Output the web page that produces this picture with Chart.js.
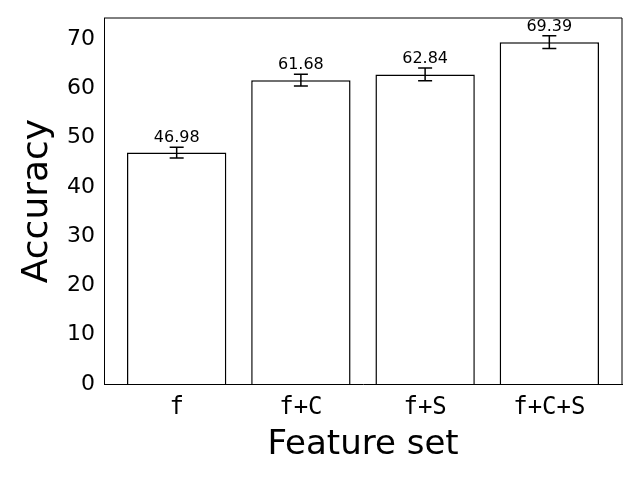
<!DOCTYPE html>
<html>
<head>
<script src="https://cdn.jsdelivr.net/npm/chart.js@4"></script>
<style>body{margin:0;background:#fff}#wrap{width:640px;height:480px}</style>
</head>
<body>
<div id="wrap"><canvas id="myChart"></canvas></div>
<script>
var categories = ["f", "f+C", "f+S", "f+C+S"];
var accuracy = [46.98, 61.68, 62.84, 69.39];
var errors = [1.1, 1.2, 1.3, 1.3];
var yTicks = [0, 10, 20, 30, 40, 50, 60, 70];

const errorBars = {
  id: "errorBars",
  afterDatasetsDraw: function (chart) {
    const ctx = chart.ctx;
    const xs = chart.scales.x, ys = chart.scales.y;
    ctx.save();
    ctx.strokeStyle = "#000";
    ctx.lineWidth = 1.5;
    ctx.fillStyle = "#000";
    ctx.font = "16px 'DejaVu Sans'";
    ctx.textAlign = "center";
    ctx.textBaseline = "bottom";
    accuracy.forEach(function (v, i) {
      const x = xs.getPixelForValue(i);
      const yt = ys.getPixelForValue(v + errors[i]);
      const yb = ys.getPixelForValue(v - errors[i]);
      ctx.beginPath();
      ctx.moveTo(x, yt); ctx.lineTo(x, yb);
      ctx.moveTo(x - 7, yt); ctx.lineTo(x + 7, yt);
      ctx.moveTo(x - 7, yb); ctx.lineTo(x + 7, yb);
      ctx.stroke();
      ctx.fillText(v.toFixed(2), x, yt - 1);
    });
    ctx.restore();
  }
};

new Chart(document.getElementById("myChart"), {
  type: "bar",
  data: {
    datasets: [{
      data: accuracy.map(function (v, i) { return { x: i, y: v }; }),
      backgroundColor: "#fff",
      borderColor: "#000",
      borderWidth: 1.5,
      categoryPercentage: 1,
      barPercentage: 0.8
    }]
  },
  options: {
    responsive: true,
    maintainAspectRatio: false,
    animation: false,
    layout: { padding: { top: 18, right: 18, left: 12, bottom: 0 } },
    plugins: { legend: { display: false }, tooltip: { enabled: false } },
    scales: {
      x: {
        type: "linear",
        offset: false,
        min: -0.585,
        max: 3.585,
        afterBuildTicks: function (s) { s.ticks = categories.map(function (c, i) { return { value: i }; }); },
        afterFit: function (s) { s.height = 96; },
        grid: { display: false, offset: false, tickLength: 5, tickColor: "#000" },
        border: { color: "#000", width: 1 },
        ticks: {
          color: "#000",
          padding: 4,
          font: { family: "'DejaVu Sans Mono'", size: 24 },
          callback: function (v) { return categories[v]; }
        },
        title: { display: true, text: "Feature set", color: "#000", font: { family: "'DejaVu Sans'", size: 34 }, padding: { top: 2, bottom: 14 } }
      },
      y: {
        min: 0,
        max: 74.3,
        afterBuildTicks: function (s) { s.ticks = yTicks.map(function (v) { return { value: v }; }); },
        afterFit: function (s) { s.width = 92; },
        grid: { display: false, tickLength: 5, tickColor: "#000" },
        border: { color: "#000", width: 1 },
        ticks: { color: "#000", padding: 4, font: { family: "'DejaVu Sans'", size: 22 } },
        title: { display: true, text: "Accuracy", color: "#000", font: { family: "'DejaVu Sans'", size: 36 }, padding: { bottom: 0 } }
      }
    }
  },
  plugins: [errorBars, {
    id: "topRightBorder",
    afterDraw: function (chart) {
      const a = chart.chartArea, ctx = chart.ctx;
      ctx.save();
      ctx.strokeStyle = "#000"; ctx.lineWidth = 1;
      ctx.beginPath();
      ctx.moveTo(a.left, a.top); ctx.lineTo(a.right, a.top); ctx.lineTo(a.right, a.bottom);
      ctx.stroke();
      ctx.restore();
    }
  }]
});
</script>
</body>
</html>
